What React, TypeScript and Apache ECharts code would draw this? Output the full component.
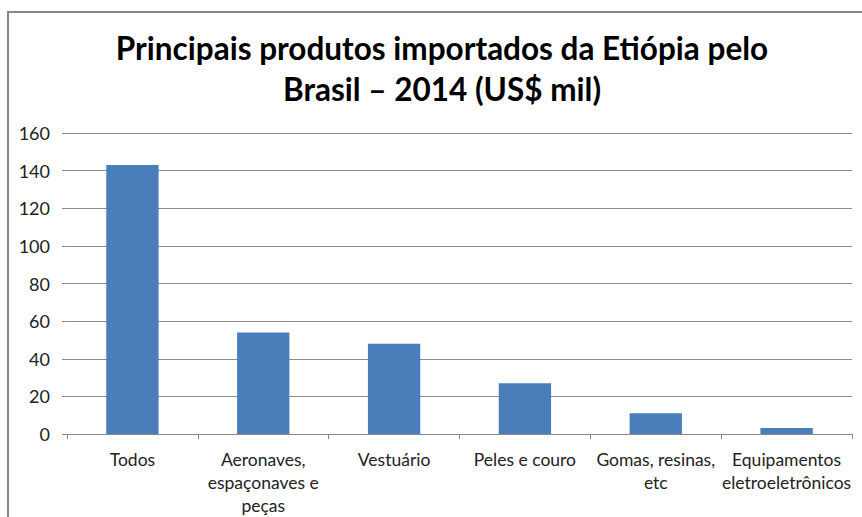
import React, { useEffect, useRef } from "react";
import * as echarts from "echarts";

const titleText = "Principais produtos importados da Etiópia pelo\nBrasil – 2014 (US$ mil)";
const categories = [
  "Todos",
  "Aeronaves,\nespaçonaves e\npeças",
  "Vestuário",
  "Peles e couro",
  "Gomas, resinas,\netc",
  "Equipamentos\neletroeletrônicos",
];
const values = [143, 54, 48, 27, 11, 3.2];
const yMin = 0;
const yMax = 160;
const yInterval = 20;

export default function App() {
  const ref = useRef<HTMLDivElement>(null);
  useEffect(() => {
    if (!ref.current) return;
    const chart = echarts.init(ref.current, null, { renderer: "svg" });
    chart.setOption({
      animation: false,
      backgroundColor: "#ffffff",
      graphic: [
        {
          type: "rect",
          shape: { x: 8, y: 12, width: 900, height: 600 },
          style: { fill: "none", stroke: "#878787", lineWidth: 2 },
          silent: true,
          z: -1,
        },
        {
          type: "text",
          x: 442,
          y: 27,
          silent: true,
          style: {
            text: titleText,
            align: "center",
            verticalAlign: "top",
            fontFamily: "Lato",
            fontWeight: "bold",
            fontSize: 31.5,
            lineHeight: 41,
            fill: "#000000",
          },
        },
      ],
      grid: { left: 67, right: 10, top: 133, bottom: 83 },
      xAxis: {
        type: "category",
        data: categories,
        axisLine: { show: true, lineStyle: { color: "#888888", width: 1 } },
        axisTick: { show: true, length: 5, lineStyle: { color: "#888888" } },
        axisLabel: {
          interval: 0,
          fontFamily: "Lato",
          fontSize: 17.5,
          lineHeight: 23,
          color: "#222222",
          margin: 14,
        },
      },
      yAxis: {
        type: "value",
        min: yMin,
        max: yMax,
        interval: yInterval,
        axisLine: { show: false },
        axisTick: { show: true, length: 5, lineStyle: { color: "#888888" } },
        splitLine: { show: true, lineStyle: { color: "#8c8c8c", width: 1 } },
        axisLabel: {
          fontFamily: "Lato",
          fontSize: 18,
          color: "#222222",
          margin: 17,
        },
      },
      series: [
        {
          type: "bar",
          data: values,
          barWidth: "40%",
          itemStyle: { color: "#4a7ebb" },
        },
      ],
    });
    return () => chart.dispose();
  }, []);
  return (
    <div
      ref={ref}
      style={{ position: "fixed", left: 0, top: 0, width: 862, height: 517 }}
    />
  );
}
